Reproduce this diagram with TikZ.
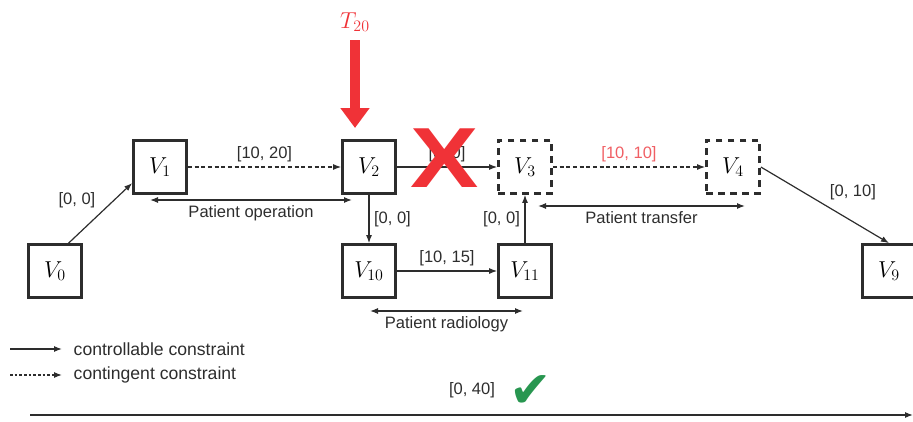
\documentclass[tikz,border=0pt]{standalone}
\usepackage{fontspec}
\setmainfont{Liberation Sans}
\newfontfamily\symfont{DejaVu Sans}
\usetikzlibrary{arrows.meta,calc}

\definecolor{xred}{RGB}{240,50,55}
\definecolor{lred}{RGB}{240,95,100}
\definecolor{okgreen}{RGB}{40,150,80}
\definecolor{ink}{RGB}{45,45,45}

\tikzset{
  vbox/.style={draw=ink, line width=1.8pt, minimum size=40pt, inner sep=0pt,
    font=\fontsize{18}{20}\selectfont},
  vdash/.style={vbox, dash pattern=on 5pt off 4pt},
  ctrl/.style={-{Latex[length=6pt,width=4.5pt]}, line width=0.9pt, draw=ink},
  cont/.style={ctrl, dash pattern=on 3pt off 2pt},
  spanarrow/.style={{Latex[length=6pt,width=4.5pt]}-{Latex[length=6pt,width=4.5pt]},
    line width=0.9pt, draw=ink},
  lbl/.style={font=\fontsize{12.4}{14}\selectfont, text=ink},
  lgd/.style={font=\fontsize{13.2}{15}\selectfont, text=ink, right, xshift=5pt},
}

\begin{document}
\begin{tikzpicture}[x=0.75pt, y=-0.75pt]
    \useasboundingbox (0,0) rectangle (913,421);

    % Sommets
    \foreach \n/\x/\y in {0/55/271, 1/160/167, 2/369/167, 10/369/271, 11/525/271, 9/889/271}
        \node[vbox] (v\n) at (\x,\y) {$V_{\n}$};
    \foreach \n/\x in {3/525, 4/733}
        \node[vdash] (v\n) at (\x,167) {$V_{\n}$};

    % Contraintes
    \draw[ctrl] (v0.64) -- node[lbl, above left] (c01) {[0, 0]} (v1.210);
    \draw[cont] (v1) -- node[lbl, above] (c12) {[10, 20]} (v2);
    \draw[ctrl] (v2) -- node[lbl, above] (c23) {[0, 0]} (v3);
    \draw[cont] (v3) -- node[lbl, above, text=lred] (c34) {[10, 10]} (v4);
    \draw[ctrl] (v4.east) -- node[lbl, above right] (c49) {[0, 10]} (v9.north);
    \draw[ctrl] (v2) -- node[lbl, right] (c210) {[0, 0]} (v10);
    \draw[ctrl] (v10) -- node[lbl, above] (c1011) {[10, 15]} (v11);
    \draw[ctrl] (v11) -- node[lbl, left] (c113) {[0, 0]} (v3);

    % Durees
    \coordinate (opA) at (150,200);
    \coordinate (opB) at (352,200);
    \draw[spanarrow] (opA) -- node[lbl, below] (op) {Patient operation} (opB);
    \coordinate (trA) at (538,206);
    \coordinate (trB) at (745,206);
    \draw[spanarrow] (trA) -- node[lbl, below] (tr) {Patient transfer} (trB);
    \coordinate (raA) at (370,311);
    \coordinate (raB) at (523,311);
    \draw[spanarrow] (raA) -- node[lbl, below] (ra) {Patient radiology} (raB);

    % Evenement T20
    \node[font=\fontsize{18}{20}\selectfont, text=xred] (t20) at (355,22) {$T_{20}$};
    \coordinate (hit) at (355,128);
    \draw[xred, line width=7pt, -{Triangle[width=21pt,length=15pt]}, shorten <=3pt] (t20.south) -- (hit);

    % Echec
    \node[font=\fontsize{64}{64}\selectfont\bfseries, text=xred, xscale=1.2] (cross) at (445,158) {X};

    % Legende
    \coordinate (l1A) at (10,349);
    \coordinate (l1B) at (62,349);
    \draw[ctrl] (l1A) -- (l1B) node[lgd] (l1) {controllable constraint};
    \coordinate (l2A) at (10,375);
    \coordinate (l2B) at (62,375);
    \draw[ctrl, dash pattern=on 2pt off 1.5pt] (l2A) -- (l2B) node[lgd] (l2) {contingent constraint};

    % Horizon
    \coordinate (hA) at (30,415);
    \coordinate (hB) at (913,415);
    \draw[ctrl] (hA) -- (hB);
    \node[lbl] (total) at (472,390) {[0, 40]};
    \node[text=okgreen, font=\symfont\fontsize{38}{38}\selectfont] (ok) at (531,392) {✔};
\end{tikzpicture}
\end{document}
